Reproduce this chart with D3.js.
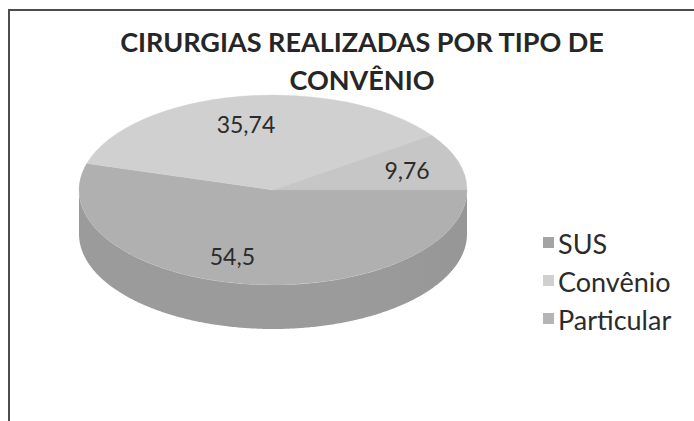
<!DOCTYPE html>
<html>
<head>
<meta charset="utf-8">
<script src="https://cdn.jsdelivr.net/npm/d3@7"></script>
<style>
body { margin: 0; background: #fff; }
text { font-family: Lato, "Open Sans", sans-serif; }
</style>
</head>
<body>
<div id="chart-area"></div>
<script>
// data
var categories = ['SUS', 'Convênio', 'Particular'];
var values = [54.5, 35.74, 9.76];
var valueLabels = ['54,5', '35,74', '9,76'];
var titleLines = ['CIRURGIAS REALIZADAS POR TIPO DE', 'CONVÊNIO'];

var topColors = ['#b0b0b0', '#d0d0d0', '#c6c6c6'];
var sideColors = ['#939393', '#acacac', '#7a7a7a'];
var legendColors = ['#a4a4a4', '#d0d0d0', '#b4b4b4'];

var width = 694, height = 421;
var cx = 273, cy = 190, rx = 194, ry = 95, depth = 44;
var squash = ry / rx;

var svg = d3.select('#chart-area')
    .append('svg')
    .attr('width', width)
    .attr('height', height);

// chart frame (right and bottom edges are cut off in the scan)
svg.append('path')
    .attr('d', `M9,${height}V10H${width}`)
    .attr('fill', 'none')
    .attr('stroke', '#4d4d4d')
    .attr('stroke-width', 2);

// title
svg.selectAll('.title')
    .data(titleLines)
    .enter()
    .append('text')
    .attr('class', 'title')
    .attr('x', 362)
    .attr('y', (d, i) => 52 + i * 38)
    .attr('text-anchor', 'middle')
    .attr('font-size', '27px')
    .attr('font-weight', 'bold')
    .attr('fill', '#262626')
    .text(d => d);

var slices = categories.map((c, i) => ({ name: c, value: values[i], label: valueLabels[i], i: i }));

var pie = d3.pie()
    .sort(null)
    .value(d => d.value)
    .startAngle(Math.PI / 2)
    .endAngle(Math.PI / 2 + 2 * Math.PI);

var arcs = pie(slices);

var defs = svg.append('defs');
arcs.forEach(a => {
    var base = d3.color(sideColors[a.data.i]);
    var grad = defs.append('linearGradient')
        .attr('id', 'side' + a.data.i)
        .attr('gradientUnits', 'userSpaceOnUse')
        .attr('x1', cx - rx).attr('x2', cx + rx)
        .attr('y1', 0).attr('y2', 0);
    grad.append('stop').attr('offset', 0).attr('stop-color', base.brighter(0.15));
    grad.append('stop').attr('offset', 0.55).attr('stop-color', base);
    grad.append('stop').attr('offset', 0.85).attr('stop-color', base.darker(0.5));
    grad.append('stop').attr('offset', 1).attr('stop-color', base.darker(0.9));
});

var g = svg.append('g')
    .attr('transform', `translate(${cx}, ${cy})`);

// side walls: only the part of each slice facing the viewer
function sidePath(a) {
    var s = Math.max(a.startAngle, Math.PI / 2);
    var e = Math.min(a.endAngle, 3 * Math.PI / 2);
    if (e <= s) return null;
    var angles = d3.range(s, e, 0.01).concat([e]);
    var top = angles.map(t => [rx * Math.sin(t), -ry * Math.cos(t)]);
    var bottom = angles.slice().reverse().map(t => [rx * Math.sin(t), -ry * Math.cos(t) + depth]);
    return d3.line()(top.concat(bottom)) + 'Z';
}

g.selectAll('.side')
    .data(arcs.filter(a => sidePath(a)))
    .enter()
    .append('path')
    .attr('class', 'side')
    .attr('d', sidePath)
    .attr('fill', d => `url(#side${d.data.i})`);

// top face
var arc = d3.arc().innerRadius(0).outerRadius(rx);

g.append('g')
    .attr('transform', `scale(1, ${squash})`)
    .selectAll('path')
    .data(arcs)
    .enter()
    .append('path')
    .attr('d', arc)
    .attr('fill', d => topColors[d.data.i])
    .attr('stroke', d => topColors[d.data.i])
    .attr('stroke-width', 0.5);

// value labels, nudged a bit like Excel's 3D perspective does
var labelArc = d3.arc().innerRadius(rx * 0.7).outerRadius(rx * 0.7);
function labelPos(d) {
    var c = labelArc.centroid(d);
    var y = c[1] * squash;
    return [c[0] * 1.1 - y * 0.13 - 11, y];
}

g.selectAll('.value')
    .data(arcs)
    .enter()
    .append('text')
    .attr('class', 'value')
    .attr('x', d => labelPos(d)[0])
    .attr('y', d => labelPos(d)[1])
    .attr('text-anchor', 'middle')
    .attr('dominant-baseline', 'central')
    .attr('font-size', '23px')
    .attr('fill', '#2b2b2b')
    .text(d => d.data.label);

// legend
var legend = svg.append('g')
    .attr('transform', 'translate(543, 243)');

var rows = legend.selectAll('.row')
    .data(categories)
    .enter()
    .append('g')
    .attr('class', 'row')
    .attr('transform', (d, i) => `translate(0, ${i * 38})`);

rows.append('rect')
    .attr('x', 0)
    .attr('y', -6)
    .attr('width', 11)
    .attr('height', 11)
    .attr('fill', (d, i) => legendColors[i]);

rows.append('text')
    .attr('x', 15)
    .attr('y', 0)
    .attr('dominant-baseline', 'central')
    .attr('font-size', '27px')
    .attr('fill', '#2b2b2b')
    .text(d => d);
</script>
</body>
</html>
